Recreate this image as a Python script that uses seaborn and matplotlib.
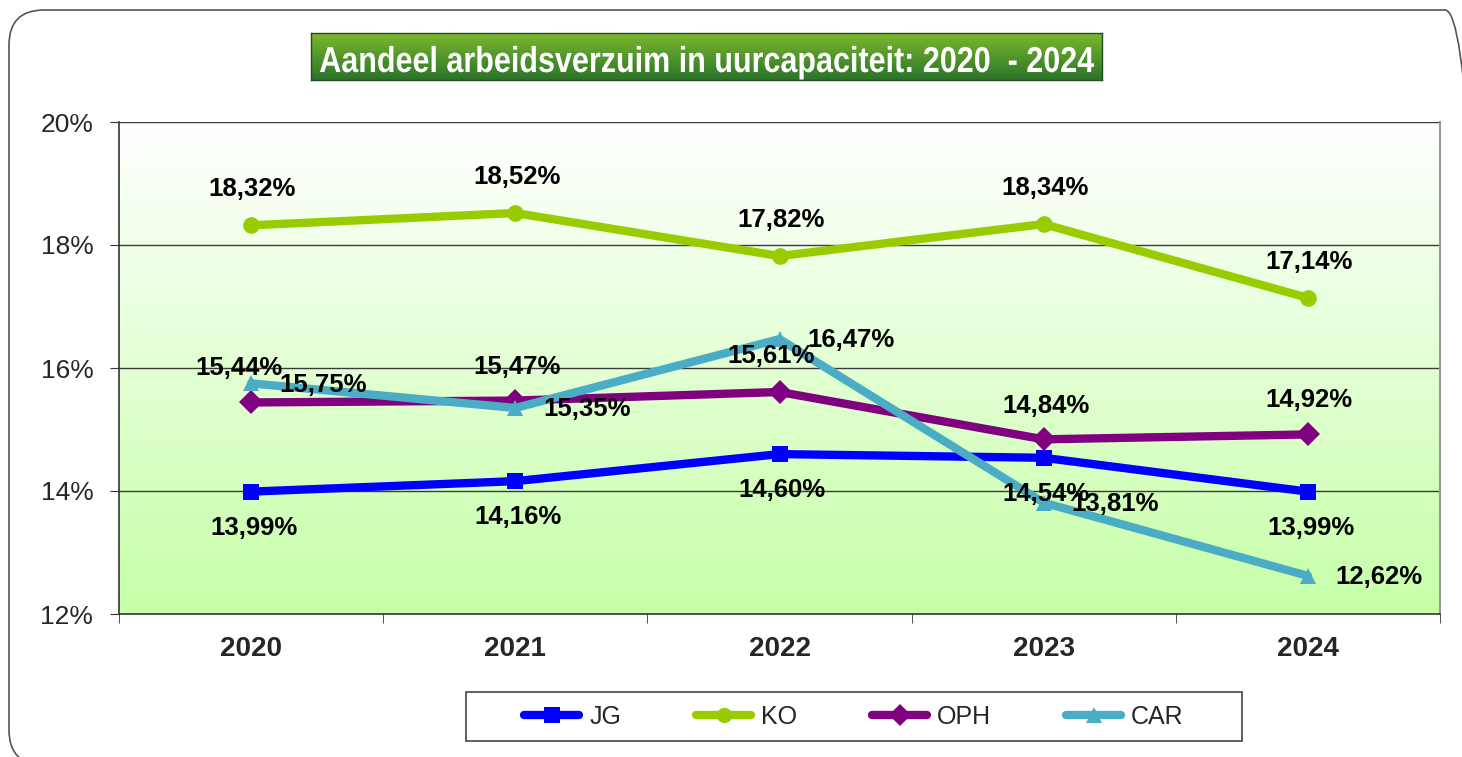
import seaborn as sns
import matplotlib.pyplot as plt
import pandas as pd
import numpy as np
from matplotlib.patches import FancyBboxPatch, Rectangle, PathPatch
from matplotlib.lines import Line2D
from matplotlib.textpath import TextPath
from matplotlib.font_manager import FontProperties
from matplotlib.transforms import Affine2D, IdentityTransform

# data
jaren = ['2020', '2021', '2022', '2023', '2024']
jg = [13.99, 14.16, 14.60, 14.54, 13.99]
ko = [18.32, 18.52, 17.82, 18.34, 17.14]
oph = [15.44, 15.47, 15.61, 14.84, 14.92]
car = [15.75, 15.35, 16.47, 13.81, 12.62]
reeksen = ['JG', 'KO', 'OPH', 'CAR']
kleuren = {'JG': '#0000FF', 'KO': '#99CC00', 'OPH': '#800080', 'CAR': '#4BACC6'}
markers = {'JG': 's', 'KO': 'o', 'OPH': 'D', 'CAR': '^'}
titel = 'Aandeel arbeidsverzuim in uurcapaciteit: 2020  - 2024'

df = pd.DataFrame({
    'jaar': list(range(len(jaren))) * 4,
    'waarde': jg + ko + oph + car,
    'reeks': [r for r in reeksen for _ in jaren],
})

sns.set_style('white')
plt.rcParams['font.family'] = ['Liberation Sans', 'DejaVu Sans']

fig = plt.figure(figsize=(14.62, 7.57), dpi=100)
W, H = 1462, 757

# rounded outer frame (pixel coordinates)
frame = FancyBboxPatch((9, -8), 1471, 755, boxstyle='round,pad=0,rounding_size=35',
                       transform=IdentityTransform(), fill=False,
                       edgecolor='#555555', lw=1.2)
fig.patches.append(frame)

ax = fig.add_axes([119 / W, 1 - 614 / H, 1321 / W, 492 / H])

# gradient background
grad = np.linspace(0, 1, 256).reshape(-1, 1)
top = np.array([1.0, 1.0, 1.0])
bot = np.array([0xc6, 0xff, 0xa8]) / 255
img = top + (bot - top) * grad[:, :, None] * np.ones((1, 2, 1))
ax.imshow(img, extent=[-0.5, 4.5, 12, 20], aspect='auto', zorder=0, origin='upper')

for y in [14, 16, 18, 20]:
    ax.axhline(y, color='#3a3a3a', lw=1, zorder=1)

sns.lineplot(data=df, x='jaar', y='waarde', hue='reeks', style='reeks',
             palette=kleuren, markers=markers, dashes=False, lw=6,
             markersize=12, markeredgewidth=0, legend=False, ax=ax, zorder=3)

ax.set_xlim(-0.5, 4.5)
ax.set_ylim(12, 20)
ax.set_xlabel('')
ax.set_ylabel('')
ax.set_yticks([12, 14, 16, 18, 20])
ax.set_yticklabels([f'{v}%' for v in [12, 14, 16, 18, 20]], fontsize=19)
ax.set_xticks(range(5))
ax.set_xticklabels(jaren, fontsize=20, fontweight='bold')
ax.set_xticks(np.arange(-0.5, 5, 1), minor=True)
ax.tick_params(axis='x', which='major', length=0, pad=16)
ax.tick_params(axis='x', which='minor', length=6.5, color='#333333', direction='out', bottom=True)
ax.tick_params(axis='y', length=6.5, color='#333333', direction='out', left=True, pad=12)
for s in ['left', 'bottom']:
    ax.spines[s].set_color('#333333')
    ax.spines[s].set_linewidth(1.2)
ax.spines['right'].set_color('#999999')
ax.spines['right'].set_linewidth(1.5)
ax.spines['top'].set_visible(False)
ax.grid(False)


def fmt(v):
    return f'{v:.2f}%'.replace('.', ',')


# data labels
lab = dict(fontsize=18.5, fontweight='bold', color='black', zorder=5,
           textcoords='offset points', annotation_clip=False)
for i, v in enumerate(ko):
    ax.annotate(fmt(v), (i, v), xytext=(1, 26), ha='center', va='center', **lab)
for i, v in enumerate(jg):
    ax.annotate(fmt(v), (i, v), xytext=(2, -26), ha='center', va='center', **lab)
oph_off = [(-9, 25), (1, 24), (-6, 26), (2, 24), (1, 25)]
for i, v in enumerate(oph):
    ax.annotate(fmt(v), (i, v), xytext=oph_off[i], ha='center', va='center', **lab)
for i, v in enumerate(car):
    ax.annotate(fmt(v), (i, v), xytext=(20, -1), ha='left', va='center', **lab)

# title box with green gradient
tax = fig.add_axes([311 / W, 1 - 80 / H, 791 / W, 47 / H])
tg = np.linspace(0, 1, 100).reshape(-1, 1)
c1 = np.array([0x7c, 0xb8, 0x2e]) / 255
c2 = np.array([0x2a, 0x74, 0x2a]) / 255
timg = c1 + (c2 - c1) * tg[:, :, None] * np.ones((1, 2, 1))
tax.imshow(timg, extent=[0, 1, 0, 1], aspect='auto', origin='upper')
tax.set_xlim(0, 1)
tax.set_ylim(0, 1)
tax.set_xticks([])
tax.set_yticks([])
for s in tax.spines.values():
    s.set_color('#1f4f1f')
    s.set_linewidth(1)

# condensed title text: bold path squeezed horizontally to fit the box
tp = TextPath((0, 0), titel, size=36, prop=FontProperties(family='Liberation Sans', weight='bold'))
ext = tp.get_extents()
sx = (1094 - 320) / ext.width
tr = Affine2D().translate(-ext.x0, 0).scale(sx, 1).translate(320, H - 72)
fig.patches.append(PathPatch(tr.transform_path(tp), transform=IdentityTransform(),
                             facecolor='white', edgecolor='none', zorder=10))

# legend
fig.patches.append(Rectangle((466 / W, 1 - 741 / H), 776 / W, 49 / H,
                             transform=fig.transFigure, fill=True, facecolor='white',
                             edgecolor='#444444', lw=1.2))
handles = [Line2D([], [], color=kleuren[r], marker=markers[r], lw=6,
                  markersize=11, markeredgewidth=0, solid_capstyle='round') for r in reeksen]
fig.legend(handles, reeksen, loc='center', bbox_to_anchor=(854 / W, 1 - 716.5 / H),
           ncol=4, frameon=False, fontsize=18, handlelength=2.2,
           handletextpad=0.4, columnspacing=3.0)

fig.savefig('out.png', dpi=100)
